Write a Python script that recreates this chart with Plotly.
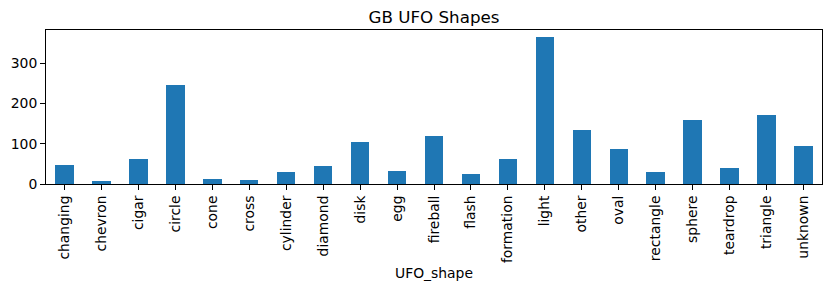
import plotly.graph_objects as go

shapes = ["changing", "chevron", "cigar", "circle", "cone", "cross", "cylinder",
          "diamond", "disk", "egg", "fireball", "flash", "formation", "light",
          "other", "oval", "rectangle", "sphere", "teardrop", "triangle", "unknown"]
counts = [47, 7, 62, 245, 12, 10, 30, 45, 104, 32, 119, 25, 62, 364, 134, 87,
          30, 158, 40, 171, 94]
y_ticks = [0, 100, 200, 300]

FONT = "DejaVu Sans"

fig = go.Figure(go.Bar(
    x=list(range(len(shapes))), y=counts, width=0.5,
    marker=dict(color="#1f77b4", line=dict(width=0)),
))

fig.update_layout(
    width=831, height=291,
    margin=dict(l=46, r=9, t=30, b=107),
    paper_bgcolor="white", plot_bgcolor="white",
    font=dict(family=FONT, size=13.9, color="black"),
    showlegend=False,
    title=dict(text="GB UFO Shapes", x=0.5, xanchor="center", xref="paper",
               y=1 - 17 / 291, yanchor="middle",
               font=dict(family=FONT, size=16.7, color="black")),
    bargap=0,
)
fig.update_xaxes(
    range=[-0.5, len(shapes) - 0.5],
    tickmode="array", tickvals=list(range(len(shapes))), ticktext=shapes,
    tickangle=-90, ticks="outside", ticklen=5, tickwidth=1, tickcolor="black",
    showline=True, linecolor="black", linewidth=1, mirror=True,
    showgrid=False, zeroline=False,
    title=dict(text="UFO_shape", font=dict(family=FONT, size=13.9, color="black"), standoff=6),
)
fig.update_yaxes(
    range=[0, 382],
    tickmode="array", tickvals=y_ticks, ticktext=[str(v) for v in y_ticks],
    ticks="outside", ticklen=5, tickwidth=1, tickcolor="black",
    showline=True, linecolor="black", linewidth=1, mirror=True,
    showgrid=False, zeroline=False,
)

fig.write_html("out.html")
